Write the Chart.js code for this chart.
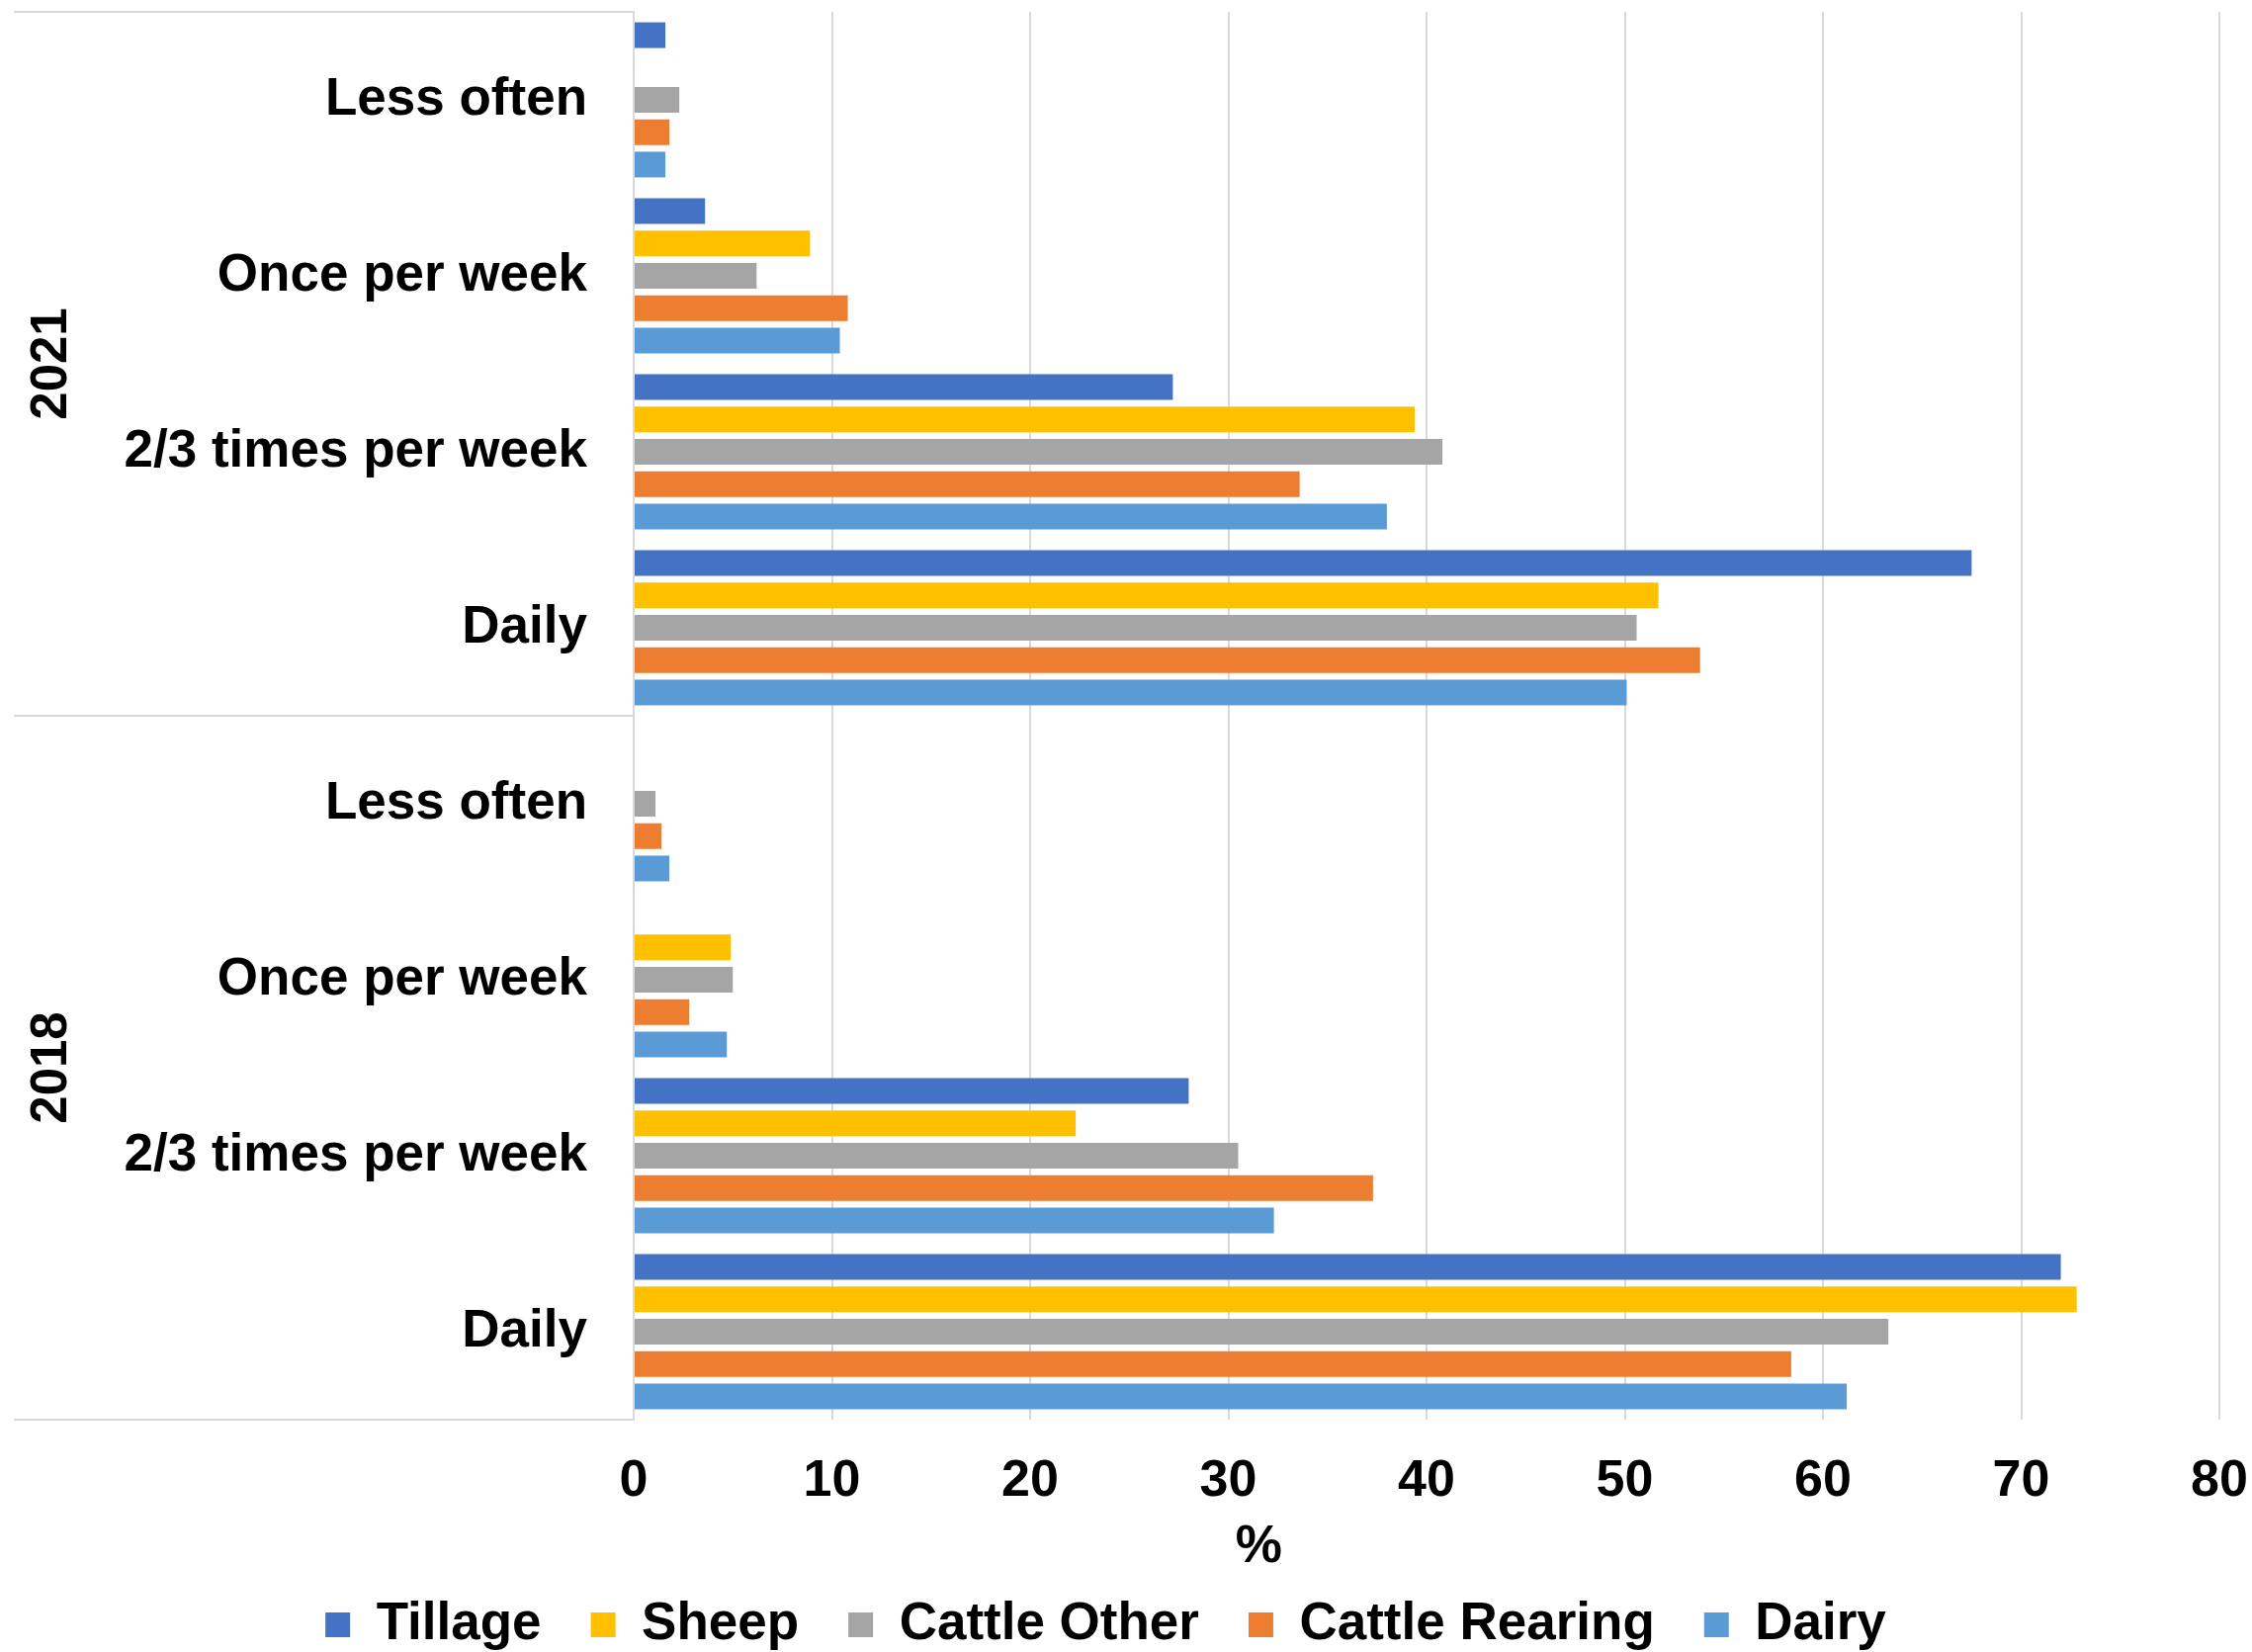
<!DOCTYPE html>
<html>
<head>
<meta charset="utf-8">
<script src="https://cdn.jsdelivr.net/npm/chart.js@4/dist/chart.umd.min.js"></script>
<style>
  html, body { margin: 0; padding: 0; background: #ffffff; }
  canvas { display: block; }
</style>
</head>
<body>
<canvas id="chart" width="2278" height="1671"></canvas>
<script>
// Survey groups and answer categories (top to bottom)
const years = ['2021', '2018'];
const frequencies = ['Less often', 'Once per week', '2/3 times per week', 'Daily'];

// Farm types in legend order
const seriesNames = ['Tillage', 'Sheep', 'Cattle Other', 'Cattle Rearing', 'Dairy'];
const seriesColors = ['#4472C4', '#FFC000', '#A5A5A5', '#ED7D31', '#5B9BD5'];

// Share of farmers (%) per frequency: Less often, Once per week, 2/3 times per week, Daily
const tillage2021       = [1.6, 3.6, 27.2, 67.5];
const tillage2018       = [null, null, 28.0, 72.0];
const sheep2021         = [null, 8.9, 39.4, 51.7];
const sheep2018         = [null, 4.9, 22.3, 72.8];
const cattleOther2021   = [2.3, 6.2, 40.8, 50.6];
const cattleOther2018   = [1.1, 5.0, 30.5, 63.3];
const cattleRearing2021 = [1.8, 10.8, 33.6, 53.8];
const cattleRearing2018 = [1.4, 2.8, 37.3, 58.4];
const dairy2021         = [1.6, 10.4, 38.0, 50.1];
const dairy2018         = [1.8, 4.7, 32.3, 61.2];

// Value axis ticks
const valueTicks = [0, 10, 20, 30, 40, 50, 60, 70, 80];
const valueAxisTitle = '%';

const FONT = '"Liberation Sans", Arial, Helvetica, sans-serif';
Chart.defaults.color = '#000000';
Chart.defaults.font.family = FONT;
Chart.defaults.font.weight = 'bold';

const seriesValues = [
  [...tillage2021, ...tillage2018],
  [...sheep2021, ...sheep2018],
  [...cattleOther2021, ...cattleOther2018],
  [...cattleRearing2021, ...cattleRearing2018],
  [...dairy2021, ...dairy2018]
];

const categoryLabels = years.flatMap(() => frequencies);

// Group separators, rotated year labels and the value-axis title
const groupLabels = {
  id: 'groupLabels',
  afterLayout(chart) {
    // nudge the legend row slightly down and to the left
    chart.legend.top += 9;
    chart.legend.bottom += 9;
    chart.legend.left -= 11;
    chart.legend.right -= 11;
  },
  afterDraw(chart) {
    const { ctx, chartArea, scales: { x, y } } = chart;
    const per = frequencies.length;
    const bounds = [chartArea.top];
    for (let g = 1; g < years.length; g++) bounds.push(y.getPixelForValue(g * per - 0.5));
    bounds.push(chartArea.bottom);

    ctx.save();
    ctx.strokeStyle = '#d9d9d9';
    ctx.lineWidth = 2;
    ctx.beginPath();
    bounds.forEach(b => { ctx.moveTo(y.left, b); ctx.lineTo(chartArea.left, b); });
    ctx.stroke();

    ctx.fillStyle = '#000000';
    ctx.textAlign = 'center';
    ctx.textBaseline = 'middle';
    ctx.font = 'bold 51px ' + FONT;
    years.forEach((yr, g) => {
      const cy = (bounds[g] + bounds[g + 1]) / 2;
      ctx.save();
      ctx.translate(y.left + 39, cy);
      ctx.rotate(-Math.PI / 2);
      ctx.fillText(yr, 0, 0);
      ctx.restore();
    });

    ctx.font = 'bold 53px ' + FONT;
    ctx.fillText(valueAxisTitle, chart.width * 0.559, x.bottom + 7);
    ctx.restore();
  }
};

new Chart(document.getElementById('chart'), {
  type: 'bar',
  data: {
    labels: categoryLabels,
    datasets: seriesNames.map((name, i) => ({
      label: name,
      data: seriesValues[i],
      backgroundColor: seriesColors[i],
      borderWidth: 0,
      categoryPercentage: 0.919,
      barPercentage: 0.795
    }))
  },
  options: {
    indexAxis: 'y',
    responsive: false,
    animation: false,
    layout: { padding: { top: 12, left: 14, right: 33, bottom: 0 } },
    scales: {
      x: {
        type: 'linear',
        min: valueTicks[0],
        max: valueTicks[valueTicks.length - 1],
        afterBuildTicks: scale => { scale.ticks = valueTicks.map(v => ({ value: v })); },
        grid: { color: '#d9d9d9', lineWidth: 2, drawTicks: false },
        border: { display: false },
        ticks: { font: { size: 52, weight: 'bold' }, padding: 31, color: '#000000' },
        afterFit: scale => {
          scale.height = 122;
          scale.paddingLeft = 0;
          scale.paddingRight = 0;
        }
      },
      y: {
        type: 'category',
        grid: { display: false, drawTicks: false },
        border: { display: true, color: '#d9d9d9', width: 2 },
        ticks: { font: { size: 53, weight: 'bold' }, padding: 47, color: '#000000' },
        afterFit: scale => {
          scale.width = 627;
          scale.paddingTop = 0;
          scale.paddingBottom = 0;
        }
      }
    },
    plugins: {
      legend: {
        position: 'bottom',
        labels: {
          boxWidth: 25,
          boxHeight: 25,
          padding: 50,
          color: '#000000',
          font: { size: 53, weight: 'bold' }
        }
      },
      tooltip: { enabled: false }
    }
  },
  plugins: [groupLabels]
});
</script>
</body>
</html>
